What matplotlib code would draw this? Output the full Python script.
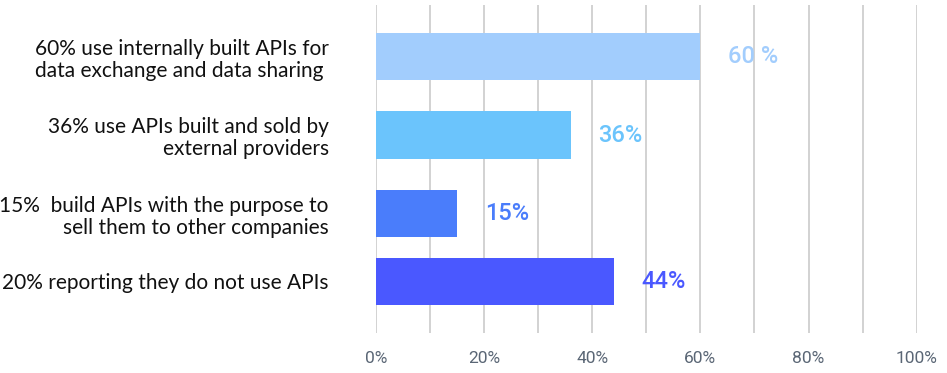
import matplotlib.pyplot as plt
import numpy as np

# API usage survey
categories = [
    "60% use internally built APIs for\ndata exchange and data sharing ",
    "36% use APIs built and sold by\nexternal providers",
    "15%  build APIs with the purpose to\nsell them to other companies",
    "20% reporting they do not use APIs",
]
values = [60, 36, 15, 44]
value_labels = ["60 %", "36%", "15%", "44%"]
colors = ["#a2cdfd", "#6bc4fc", "#4a7dfb", "#4a58ff"]
xticks = [0, 20, 40, 60, 80, 100]

# last bar sits a bit closer to the one above it
ypos = np.array([0, 1, 2, 2.86])

fig = plt.figure(figsize=(9.47, 3.73), dpi=100)
ax = fig.add_axes([0.397, 0.108, 0.571, 0.878])

ax.barh(ypos, values, height=0.6, color=colors, zorder=2)
ax.set_xlim(0, 100)
ax.set_ylim(3.517, -0.653)

# vertical grid every 10%
for x in range(0, 101, 10):
    ax.axvline(x, color="#cfcfcf", lw=1.3, zorder=1)

for y, v, lab, c in zip(ypos, values, value_labels, colors):
    ax.annotate(lab, (v, y), xytext=(20, 0), textcoords="offset points",
                ha="left", va="center", color=c, fontsize=17,
                fontfamily="Roboto", fontweight="medium", zorder=3)

ax.set_yticks(ypos)
ax.set_yticklabels(categories, fontfamily="Lato", fontsize=15,
                   color="#111111", linespacing=1.15)
ax.set_xticks(xticks)
ax.set_xticklabels([f"{t}%" for t in xticks], fontfamily="Roboto",
                   fontsize=12.5, color="#5a6675")
ax.tick_params(axis="y", length=0, pad=34)
ax.tick_params(axis="x", length=0, pad=13)
for s in ax.spines.values():
    s.set_visible(False)

fig.savefig("out.png", dpi=100)
